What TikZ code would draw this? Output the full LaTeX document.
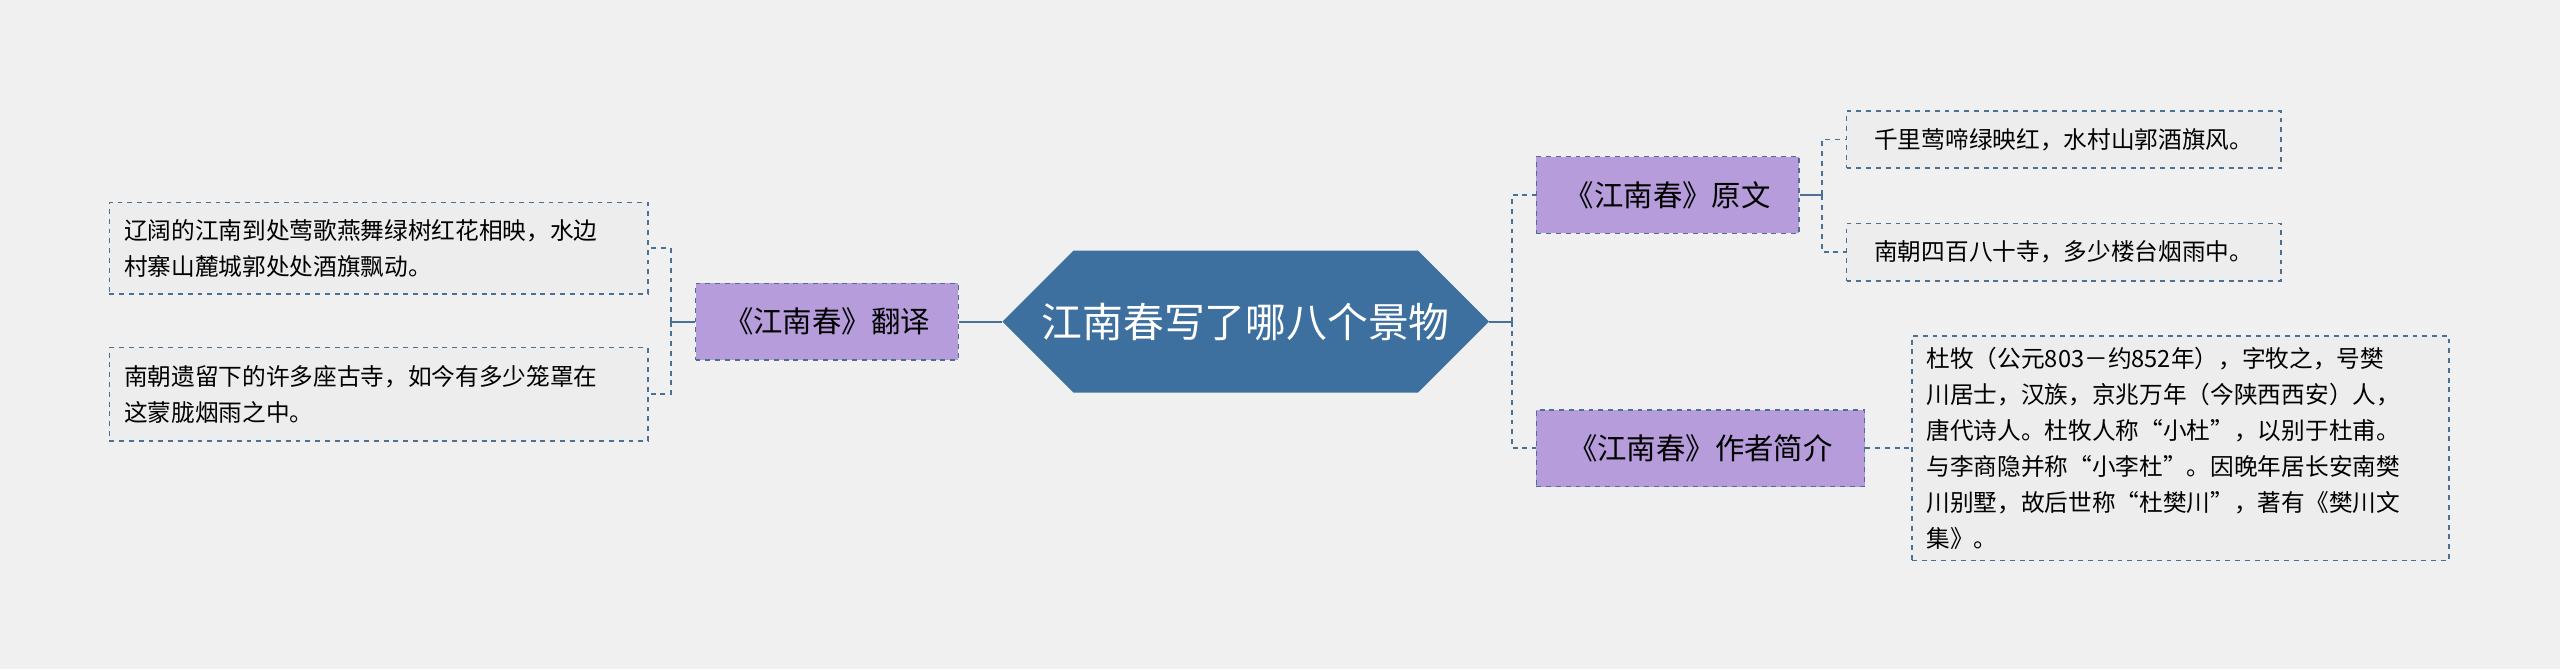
\documentclass[tikz,border=0pt]{standalone}
\usepackage{fontspec}
\setmainfont{Noto Sans CJK SC}
\usetikzlibrary{shapes.misc}
\definecolor{bg}{HTML}{F0F0F0}
\definecolor{hexc}{HTML}{3D6F9F}
\definecolor{purp}{HTML}{B79CDB}
\definecolor{leaf}{HTML}{EDEDED}
\definecolor{edge}{HTML}{4A7096}
\begin{document}
\begin{tikzpicture}[x=1pt,y=-1pt,
  mid/.style={draw=edge,dashed,fill=purp,minimum height=47pt,inner xsep=10pt,font=\fontsize{18}{22}\selectfont,line width=0.9pt},
  lf/.style={draw=edge,dashed,fill=leaf,inner xsep=9pt,inner ysep=7pt,align=left,font=\fontsize{14.5}{22}\selectfont,line width=0.9pt},
  con/.style={draw=edge,line width=1.3pt},
  dcon/.style={draw=edge,dashed,line width=1.1pt}]
\fill[bg] (0,0) rectangle (1568,410);
\useasboundingbox (0,0) rectangle (1568,410);
\node[chamfered rectangle,chamfered rectangle xsep=16pt,chamfered rectangle ysep=32pt,fill=hexc,text=white,minimum width=298pt,minimum height=64pt,inner sep=0pt,font=\fontsize{25}{30}\selectfont] (c) at (763,197) {江南春写了哪八个景物};
\node[mid,minimum width=161pt] (t) at (506.5,197) {《江南春》翻译};
\node[mid,minimum width=161pt] (y) at (1021.5,119.5) {《江南春》原文};
\node[mid,minimum width=201pt] (z) at (1041.5,274.5) {《江南春》作者简介};
\node[lf,minimum width=330pt,minimum height=56pt,text width=312pt] (l1) at (232,152) {辽阔的江南到处莺歌燕舞绿树红花相映，水边\\村寨山麓城郭处处酒旗飘动。};
\node[lf,minimum width=330pt,minimum height=57pt,text width=312pt] (l2) at (232,241.5) {南朝遗留下的许多座古寺，如今有多少笼罩在\\这蒙胧烟雨之中。};
\node[lf,minimum width=266pt,minimum height=35pt,inner ysep=4pt] (r1) at (1264,85.5) {千里莺啼绿映红，水村山郭酒旗风。};
\node[lf,minimum width=266pt,minimum height=35pt,inner ysep=4pt] (r2) at (1264,154.5) {南朝四百八十寺，多少楼台烟雨中。};
\node[lf,minimum width=329pt,minimum height=137pt,text width=311pt] (r3) at (1335.5,274.5) {杜牧（公元803－约852年），字牧之，号樊\\川居士，汉族，京兆万年（今陕西西安）人，\\唐代诗人。杜牧人称“小杜”，以别于杜甫。\\与李商隐并称“小李杜”。因晚年居长安南樊\\川别墅，故后世称“杜樊川”，著有《樊川文\\集》。};
\coordinate (cr) at (926,197);
\draw[con] (c.east) -- (cr);
\draw[con] (c.west) -- (t.east);
\draw[dcon] (cr) |- (y.west);
\draw[dcon] (cr) |- (z.west);
\coordinate (tl) at (411,197);
\draw[con] (t.west) -- (tl);
\draw[dcon] (tl) |- (l1.east);
\draw[dcon] (tl) |- (l2.east);
\coordinate (yr) at (1116,119.5);
\draw[con] (y.east) -- (yr);
\draw[dcon] (yr) |- (r1.west);
\draw[dcon] (yr) |- (r2.west);
\draw[dcon] (z.east) -- (r3.west);
\end{tikzpicture}
\end{document}
